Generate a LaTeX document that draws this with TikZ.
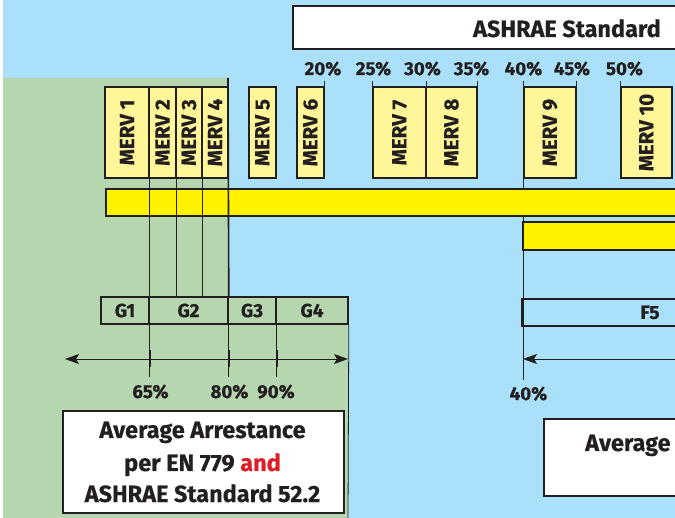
\documentclass[tikz,border=0pt]{standalone}
\usepackage{fontspec}
\setmainfont{Fira Sans}[BoldFeatures={FakeBold=0.4}]
\usetikzlibrary{arrows.meta}
\definecolor{bgblue}{RGB}{171,224,250}
\definecolor{bggreen}{RGB}{181,214,174}
\definecolor{lyellow}{RGB}{255,246,153}
\definecolor{yell}{RGB}{255,242,0}
\definecolor{ink}{RGB}{35,31,32}
\definecolor{redtxt}{RGB}{222,30,38}
\begin{document}
\begin{tikzpicture}[x=1pt,y=-1pt,
  box/.style={draw=ink, line width=1.6pt, inner sep=0pt},
  merv/.style={box, fill=lyellow, rotate=90, minimum width=91pt, text=ink, font=\fontsize{20.5}{20.5}\selectfont\bfseries},
  gbox/.style={box, minimum height=27pt, text=ink, font=\fontsize{19}{19}\selectfont\bfseries},
  bar/.style={box, fill=yell, anchor=north west, minimum width=600pt},
  pct/.style={inner sep=0pt, anchor=base, text=ink, font=\fontsize{18.7}{18.7}\selectfont\bfseries},
  big/.style={inner sep=0pt, anchor=base, text=ink, font=\fontsize{23.5}{23.5}\selectfont\bfseries},
  thin/.style={draw=ink, line width=0.8pt},
  thick/.style={draw=ink, line width=1.6pt},
  tick/.style={draw=ink, line width=2pt},
  arr/.style={draw=ink, line width=0.9pt},
  tip/.tip={Stealth[length=14pt,width=10pt,inset=3pt]}
]
\useasboundingbox (0,0) rectangle (675,518);
\clip (0,0) rectangle (675,518);
\fill[white] (0,0) rectangle (675,518);
\fill[bgblue] (3,0) rectangle (675,518);
\fill[bggreen] (3,78) -- (228,78) -- (228,297) -- (348,297) -- (348,518) -- (3,518) -- cycle;

% reference coordinates
\coordinate (tk) at (0,81);
\coordinate (gt) at (228,78);
\coordinate (lb) at (0,377);
\coordinate (t1) at (0,350);
\coordinate (t2) at (0,367);
\coordinate (al) at (65,359);
\coordinate (ar) at (348,359);
\coordinate (br) at (700,359);
\coordinate (vb) at (523,380);
\coordinate (vt) at (523,81);
\coordinate (gb) at (348,518);

% long line at 40%
\draw[thin] (vt) -- (vb);

% top box
\node[box, fill=white, anchor=north west, minimum width=400pt, minimum height=43pt] (topbox) at (292,5) {};
\node[big, anchor=base east] (ashrae) at (661,37) {ASHRAE Standard};

% bars
\node[bar, minimum height=27pt] (bar1) at (105,188) {};
\node[bar, minimum height=28pt] (bar2) at (522,221) {};

% MERV boxes
\node[merv, minimum height=44pt] (m1) at (127,132.5) {MERV 1};
\node[merv, minimum height=27pt] (m2) at (162.5,132.5) {MERV 2};
\node[merv, minimum height=26pt] (m3) at (189,132.5) {MERV 3};
\node[merv, minimum height=26pt] (m4) at (215,132.5) {MERV 4};
\node[merv, minimum height=27pt] (m5) at (262.5,132.5) {MERV 5};
\node[merv, minimum height=27pt] (m6) at (310.5,132.5) {MERV 6};
\node[merv, minimum height=53pt] (m7) at (399.5,132.5) {MERV 7};
\node[merv, minimum height=51pt] (m8) at (451.5,132.5) {MERV 8};
\node[merv, minimum height=52pt] (m9) at (550,132.5) {MERV 9};
\node[merv, minimum height=51pt] (m10) at (646.5,132.5) {MERV 10};

% percent labels and ticks
\node[pct] (p20) at (323,75) {20\%};
\node[pct] (p25) at (373.5,75) {25\%};
\node[pct] (p30) at (422.5,75) {30\%};
\node[pct] (p35) at (471.5,75) {35\%};
\node[pct] (p40) at (523.5,75) {40\%};
\node[pct] (p45) at (572,75) {45\%};
\node[pct] (p50) at (624.5,75) {50\%};
\draw[thin] (m6.south east) -- (m6.south east |- tk);
\draw[thin] (m7.north east) -- (m7.north east |- tk);
\draw[thin] (m7.south east) -- (m7.south east |- tk);
\draw[thin] (m8.south east) -- (m8.south east |- tk);
\draw[thin] (m9.south east) -- (m9.south east |- tk);
\draw[thin] (m10.north east) -- (m10.north east |- tk);

% G row
\node[gbox, minimum width=48pt] (g1) at (125,310.5) {G1};
\node[gbox, minimum width=79pt] (g2) at (188.5,310.5) {G2};
\node[gbox, minimum width=48pt] (g3) at (252,310.5) {G3};
\node[gbox, minimum width=72pt] (g4) at (312,310.5) {G4};
\node[gbox, minimum width=256pt] (f5) at (650,312.5) {F5};

% vertical lines from MERV to G row
\draw[thin] (m1.south west) -- (m1.south west |- g1.north);
\draw[thin] (m2.south west) -- (m2.south west |- g1.north);
\draw[thin] (m3.south west) -- (m3.south west |- g1.north);
\draw[thick] (gt) -- (g2.north east);
\draw[thin] (g4.south east) -- (gb);

% lines below G row
\draw[thin] (g1.south east) -- (g1.south east |- lb);
\draw[thin] (g2.south east) -- (g2.south east |- lb);
\draw[thin] (g3.south east) -- (g3.south east |- lb);
\draw[tick] (g1.south east |- t1) -- (g1.south east |- t2);
\draw[tick] (g2.south east |- t1) -- (g2.south east |- t2);
\draw[tick] (g3.south east |- t1) -- (g3.south east |- t2);
\draw[arr, tip-tip] (al) -- (ar);
\draw[arr, tip-] (vb |- al) -- (br);

\node[pct] (p65) at (150.5,398) {65\%};
\node[pct] (p80) at (229.5,398) {80\%};
\node[pct] (p90) at (276,398) {90\%};
\node[pct] (p40b) at (528.5,400) {40\%};

% bottom boxes
\node[box, fill=white, anchor=north west, minimum width=281pt, minimum height=102pt] (arrbox) at (62,410) {};
\node[big] (l1) at (202.5,438) {Average Arrestance};
\node[big] (l2) at (202.5,471) {per EN 779 \textcolor{redtxt}{and}};
\node[big] (l3) at (202.5,502) {ASHRAE Standard 52.2};
\node[box, fill=white, anchor=north west, minimum width=200pt, minimum height=77pt] (effbox) at (543,418) {};
\node[big, anchor=base west] (avg) at (585,451) {Average};
\end{tikzpicture}
\end{document}
